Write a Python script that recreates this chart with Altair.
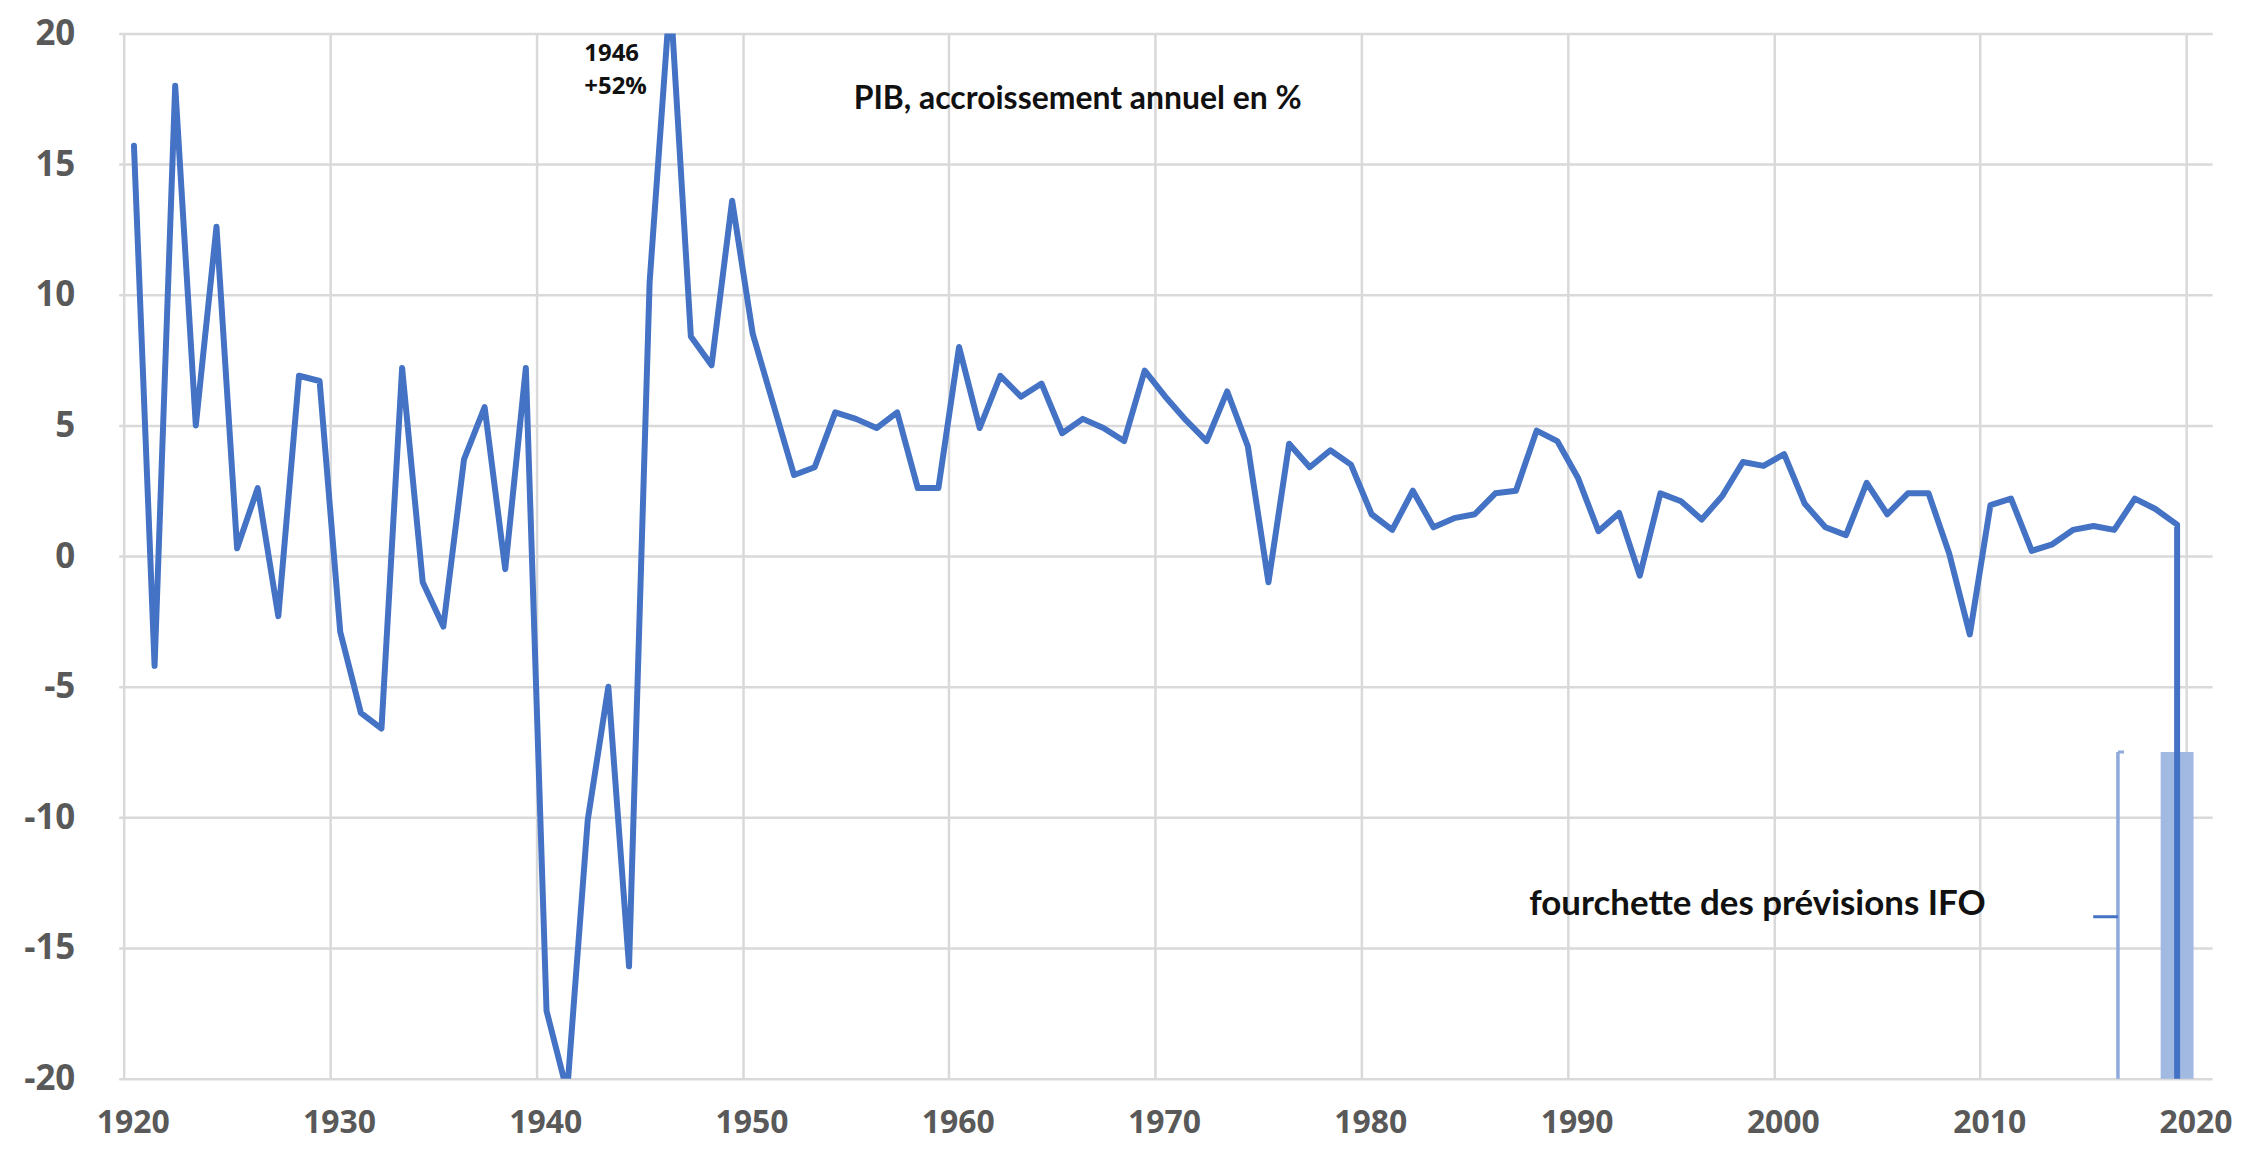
import altair as alt
import pandas as pd

# ---- data -----------------------------------------------------------------
years = list(range(1920, 2020))
growth = [15.7, -4.2, 18.0, 5.0, 12.6, 0.3, 2.6, -2.3, 6.9, 6.7,
          -2.9, -6.0, -6.6, 7.2, -1.0, -2.7, 3.7, 5.7, -0.5, 7.2,
          -17.4, -20.5, -10.1, -5.0, -15.7, 10.5, 21.5, 8.4, 7.3, 13.6,
          8.5, 5.8, 3.1, 3.4, 5.5, 5.25, 4.9, 5.5, 2.6, 2.6,
          8.0, 4.9, 6.9, 6.1, 6.6, 4.7, 5.25, 4.9, 4.4, 7.1,
          6.1, 5.2, 4.4, 6.3, 4.2, -1.0, 4.3, 3.4, 4.05, 3.5,
          1.6, 1.0, 2.5, 1.1, 1.45, 1.6, 2.4, 2.5, 4.8, 4.4,
          3.0, 0.95, 1.65, -0.75, 2.4, 2.1, 1.4, 2.3, 3.6, 3.45,
          3.9, 2.0, 1.1, 0.8, 2.8, 1.6, 2.4, 2.4, 0.1, -3.0,
          1.95, 2.2, 0.2, 0.45, 1.0, 1.15, 1.0, 2.2, 1.8, 1.2]

x_tick_years = list(range(1920, 2030, 10))
y_ticks = list(range(-20, 25, 5))

# IFO forecast range (drawn at the position of the last observation)
forecast_at = "2019-07-20"
forecast_high = -7.5
forecast_mid = -13.8
forecast_low = -20.1

# bracket next to the forecast range
bracket_at = "2016-09-05"
bracket_hook_end = "2016-12-20"
bracket_tick_start = "2015-06-25"

title_text = "PIB, accroissement annuel en %"
title_at = ("1966-04-01", 17.5)
peak_texts = ["1946", "+52%"]
peak_text_at = ["1942-05-01", [19.2, 17.95]]
range_text = "fourchette des prévisions IFO"
range_text_at = ("2010-04-10", -13.3)

# ---- tables -----------------------------------------------------------------
line_df = pd.DataFrame({
    "date": [f"{y}-07-01" for y in years[:-1]] + [forecast_at, forecast_at],
    "value": growth + [forecast_low],
})
line_df["idx"] = range(len(line_df))

bar_df = pd.DataFrame({"date": [forecast_at], "top": [forecast_high], "bottom": [forecast_low]})
bracket_v = pd.DataFrame({"date": [bracket_at], "top": [forecast_high], "bottom": [forecast_low]})
bracket_h = pd.DataFrame({
    "d1": [bracket_at, bracket_at, bracket_tick_start],
    "d2": [bracket_hook_end, bracket_hook_end, bracket_at],
    "value": [forecast_high, forecast_low, forecast_mid],
    "kind": ["hook", "hook", "tick"],
})
title_df = pd.DataFrame({"date": [title_at[0]], "value": [title_at[1]], "text": [title_text]})
peak_df = pd.DataFrame({"date": [peak_text_at[0]] * 2, "value": peak_text_at[1], "text": peak_texts})
range_df = pd.DataFrame({"date": [range_text_at[0]], "value": [range_text_at[1]], "text": [range_text]})

# ---- styling ----------------------------------------------------------------
BLUE = "#4472c4"
LIGHT = "#a2b9e2"
GRID = "#d9d9d9"
LABEL = "#595959"
NUM_FONT = "Open Sans"
TXT_FONT = "Lato"

x_scale = alt.Scale(domain=[alt.DateTime(year=1920, month=1, date=1),
                            alt.DateTime(year=2021, month=1, date=1)])
y_scale = alt.Scale(domain=[-20, 20], nice=False)

x_axis = alt.Axis(values=[alt.DateTime(year=y, month=1, date=1) for y in x_tick_years],
                  format="%Y", title=None, grid=True, gridColor=GRID, gridWidth=2.5,
                  domain=False, ticks=False, labelFont=NUM_FONT, labelFontSize=32,
                  labelFontWeight="bold", labelColor=LABEL, labelPadding=29,
                  labelOffset=9, labelFlush=False, labelOverlap=False)
y_axis = alt.Axis(values=y_ticks, title=None, grid=True, gridColor=GRID, gridWidth=2.5,
                  domain=False, ticks=False, labelFont=NUM_FONT, labelFontSize=35,
                  labelFontWeight="bold", labelColor=LABEL, labelPadding=44,
                  labelExpr="'' + datum.value")

X = alt.X("date:T", scale=x_scale, axis=x_axis)

bar = alt.Chart(bar_df).mark_bar(size=33, color=LIGHT, clip=True).encode(
    x=alt.X("date:T", scale=x_scale),
    y=alt.Y("top:Q", scale=y_scale),
    y2="bottom:Q",
)

line = alt.Chart(line_df).mark_line(color=BLUE, strokeWidth=6, strokeJoin="round",
                                    strokeCap="round", clip=True).encode(
    x=X,
    y=alt.Y("value:Q", scale=y_scale, axis=y_axis),
    order="idx:Q",
)

bracket_line = alt.Chart(bracket_v).mark_rule(color="#8eaadb", strokeWidth=3.5, clip=True).encode(
    x=alt.X("date:T", scale=x_scale),
    y=alt.Y("top:Q", scale=y_scale),
    y2="bottom:Q",
)
bracket_marks = alt.Chart(bracket_h).mark_rule(strokeWidth=3, clip=True).encode(
    x=alt.X("d1:T", scale=x_scale),
    x2="d2:T",
    y=alt.Y("value:Q", scale=y_scale),
    color=alt.Color("kind:N", scale=alt.Scale(domain=["hook", "tick"],
                                               range=["#8eaadb", BLUE]), legend=None),
)

title = alt.Chart(title_df).mark_text(font=TXT_FONT, fontSize=32, fontWeight="bold",
                                      color="#111111", align="center", baseline="middle").encode(
    x=alt.X("date:T", scale=x_scale), y=alt.Y("value:Q", scale=y_scale), text="text:N")

peak = alt.Chart(peak_df).mark_text(font=NUM_FONT, fontSize=24, fontWeight="bold",
                                    color="#111111", align="left", baseline="middle").encode(
    x=alt.X("date:T", scale=x_scale), y=alt.Y("value:Q", scale=y_scale), text="text:N")

range_lbl = alt.Chart(range_df).mark_text(font=TXT_FONT, fontSize=35, fontWeight="bold",
                                          color="#111111", align="right", baseline="middle").encode(
    x=alt.X("date:T", scale=x_scale), y=alt.Y("value:Q", scale=y_scale), text="text:N")

chart = alt.layer(bar, line, bracket_line, bracket_marks, title, peak, range_lbl).properties(
    width=2099, height=1048,
    padding={"left": 111, "top": 24, "right": 36, "bottom": 64},
    autosize=alt.AutoSizeParams(type="none"),
    background="white",
).configure_view(stroke=None)

chart.save("out.html", embed_options={"renderer": "svg", "actions": False})
